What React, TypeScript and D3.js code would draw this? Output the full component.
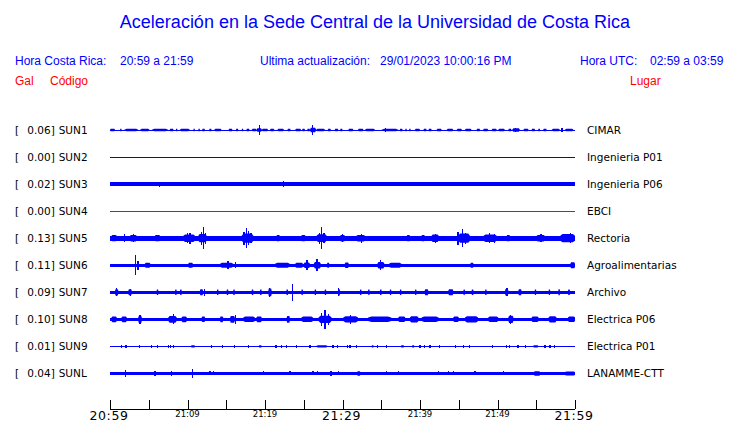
import React from "react";
import * as d3 from "d3";

// ---------- data ----------
const stations = ["SUN1", "SUN2", "SUN3", "SUN4", "SUN5", "SUN6", "SUN7", "SUN8", "SUN9", "SUNL"];
const places = ["CIMAR", "Ingenieria P01", "Ingenieria P06", "EBCI", "Rectoria", "Agroalimentarias", "Archivo", "Electrica P06", "Electrica P01", "LANAMME-CTT"];
const peaks = [0.06, 0.0, 0.02, 0.0, 0.13, 0.11, 0.09, 0.1, 0.01, 0.04];
const traceColors = ["#0000ff", "#0000ff", "#0000ff", "#ff0000", "#0000ff", "#0000ff", "#0000ff", "#0000ff", "#0000ff", "#0000ff"];
// base (background noise) half-amplitude of every trace, Gal
const baseAmp = [0, 0, 0.021, 0, 0.027, 0.015, 0.016, 0.019, 0, 0.017];

// minutes after 20:59 -> [start, end, half amplitude (Gal)]
const seg1: number[][] = [
  [0, 0.65, 0.013], [1.3, 1.5, 0.013], [1.85, 3.65, 0.013], [3.9, 5.1, 0.013], [5.4, 7.5, 0.013], [7.7, 8.2, 0.013], [8.5, 8.7, 0.013],
  [9.0, 10.3, 0.013], [10.75, 10.95, 0.013], [11.4, 11.6, 0.013], [11.9, 12.25, 0.013], [12.8, 13.1, 0.013], [13.45, 14.4, 0.013],
  [15.3, 15.8, 0.013], [16.25, 16.55, 0.013], [17.0, 17.2, 0.013], [17.6, 18.0, 0.013], [18.3, 18.9, 0.013], [18.9, 19.6, 0.02],
  [19.6, 20.4, 0.013], [20.65, 21.2, 0.013], [21.6, 22.45, 0.013], [22.9, 23.3, 0.013], [23.9, 24.65, 0.013], [24.8, 25.15, 0.013],
  [25.45, 25.8, 0.013], [25.8, 26.6, 0.025], [26.6, 27.75, 0.013], [28.1, 28.5, 0.013], [29.0, 29.45, 0.013], [29.7, 30.0, 0.013],
  [30.75, 31.4, 0.013], [32.0, 32.7, 0.013], [32.9, 34.2, 0.013], [35.05, 37.2, 0.013], [37.4, 37.75, 0.013], [38.1, 38.3, 0.013],
  [38.6, 38.8, 0.013], [39.35, 40.0, 0.013], [40.45, 40.85, 0.013], [41.1, 41.5, 0.013], [42.15, 42.8, 0.013], [43.45, 44.3, 0.013],
  [44.75, 45.4, 0.013], [45.8, 46.65, 0.013], [47.3, 47.75, 0.013], [48.15, 48.8, 0.013], [49.25, 49.9, 0.013], [50.1, 50.95, 0.013],
  [51.4, 51.8, 0.013], [51.9, 52.9, 0.02], [53.35, 54.0, 0.013], [54.4, 54.85, 0.013], [55.25, 55.5, 0.013], [55.9, 56.35, 0.013],
  [57.0, 58.05, 0.013], [58.7, 59.8, 0.013],
];
const seg2: number[][] = [];
const seg3: number[][] = [];
const seg4: number[][] = [];
const seg5: number[][] = [
  [0.2, 0.86, 0.034], [2.58, 3.44, 0.036], [5.8, 6.45, 0.034], [9.46, 10.97, 0.04], [11.4, 12.47, 0.045], [17.0, 18.5, 0.05],
  [21.5, 21.9, 0.034], [24.7, 25.2, 0.034], [26.66, 27.96, 0.042], [29.7, 30.3, 0.036], [31.8, 32.9, 0.036], [38.3, 38.7, 0.034],
  [40.2, 40.6, 0.034], [41.5, 42.4, 0.04], [44.95, 46.45, 0.05], [48.2, 49.9, 0.04], [51.2, 51.6, 0.034], [55.05, 56.1, 0.036],
  [58.1, 60.0, 0.045],
];
const seg6: number[][] = [
  [4.5, 5.2, 0.028], [10.1, 10.7, 0.027], [14.2, 15.9, 0.028], [21.3, 23.2, 0.027], [23.9, 24.9, 0.027], [25.0, 25.8, 0.03],
  [26.3, 27.2, 0.034], [28.0, 28.3, 0.027], [30.3, 30.8, 0.03], [34.5, 35.4, 0.034], [36.0, 37.6, 0.027], [46.5, 46.9, 0.027],
  [59.4, 60.0, 0.033],
];
const seg7: number[][] = [
  [0.65, 1.07, 0.034], [2.37, 2.8, 0.032], [6.02, 6.24, 0.03], [8.4, 8.6, 0.03], [9.03, 9.25, 0.03], [11.6, 12.0, 0.032],
  [13.8, 14.0, 0.03], [15.05, 15.27, 0.03], [15.9, 16.1, 0.03], [18.28, 18.5, 0.03], [19.35, 19.57, 0.03], [20.43, 20.86, 0.042],
  [22.76, 22.98, 0.03], [24.7, 24.9, 0.03], [26.4, 26.6, 0.03], [27.7, 27.9, 0.03], [29.46, 29.68, 0.034], [32.25, 32.45, 0.03],
  [33.3, 33.5, 0.03], [34.83, 35.05, 0.03], [36.1, 36.3, 0.03], [37.4, 37.6, 0.03], [39.35, 39.55, 0.03], [40.6, 41.07, 0.032],
  [43.65, 44.3, 0.032], [45.6, 45.8, 0.03], [46.66, 46.9, 0.03], [48.4, 48.6, 0.03], [50.97, 51.4, 0.036], [52.7, 53.1, 0.032],
  [54.8, 55.0, 0.03], [56.6, 56.8, 0.03], [57.85, 58.06, 0.032], [59.1, 59.35, 0.03],
];
const seg8: number[][] = [
  [0.2, 0.86, 0.032], [1.5, 2.15, 0.032], [3.65, 4.1, 0.04], [7.53, 8.6, 0.036], [9.25, 9.9, 0.032], [11.83, 12.26, 0.03],
  [14.2, 14.6, 0.032], [15.5, 16.1, 0.036], [17.2, 18.7, 0.03], [18.9, 19.57, 0.032], [22.8, 23.2, 0.036], [24.7, 26.2, 0.03],
  [26.9, 28.6, 0.04], [30.1, 32.0, 0.033], [33.3, 36.3, 0.03], [37.2, 38.1, 0.03], [38.7, 39.8, 0.033], [40.2, 42.4, 0.03],
  [44.3, 45.0, 0.03], [45.8, 47.5, 0.033], [48.8, 50.1, 0.03], [51.4, 52.05, 0.04], [54.4, 55.3, 0.03], [56.6, 57.6, 0.033],
  [59.1, 60.0, 0.03],
];
const seg9: number[][] = [
  [10.45, 10.97, 0.012], [19.2, 19.57, 0.012], [26.6, 28.09, 0.012], [33.76, 34.02, 0.012], [37.55, 37.94, 0.012],
  [38.97, 39.27, 0.012], [54.6, 55.27, 0.012],
];
const segL: number[][] = [[31.9, 32.3, 0.025], [54.7, 55.5, 0.025], [58.7, 60.0, 0.021]];
const segments = [seg1, seg2, seg3, seg4, seg5, seg6, seg7, seg8, seg9, segL];

// minutes after 20:59 -> [time, half amplitude (Gal)]
const spk1: number[][] = [[19.25, 0.058], [26.1, 0.05], [35.5, 0.022], [52.3, 0.027], [58.3, 0.022]];
const spk2: number[][] = [];
const spk3: number[][] = [[6.4, 0.026], [13.3, 0.024], [22.4, 0.03], [30.8, 0.024], [43.1, 0.024], [47.8, 0.024]];
const spk4: number[][] = [];
const spk5: number[][] = [
  [1.9, 0.045], [3.0, 0.045], [10.0, 0.055], [10.3, 0.06], [11.8, 0.07], [12.05, 0.122], [12.3, 0.06], [17.3, 0.07],
  [17.6, 0.11], [17.9, 0.075], [18.2, 0.055], [27.0, 0.06], [27.3, 0.12], [27.6, 0.055], [30.0, 0.045], [32.4, 0.05],
  [42.0, 0.05], [44.9, 0.07], [45.45, 0.1], [45.9, 0.06], [49.0, 0.055], [49.6, 0.05], [55.6, 0.045], [59.4, 0.055],
];
const spk6: number[][] = [[3.25, 0.11], [3.6, 0.05], [15.2, 0.045], [16.2, 0.035], [25.4, 0.055], [26.7, 0.065], [34.9, 0.055]];
const spk7: number[][] = [[0.8, 0.045], [20.6, 0.05], [23.5, 0.09], [29.5, 0.042], [51.2, 0.045], [2.6, 0.04], [12.2, 0.04]];
const spk8: number[][] = [[3.85, 0.05], [8.2, 0.055], [16.2, 0.045], [27.3, 0.07], [27.75, 0.1], [28.2, 0.06], [51.7, 0.05], [31.0, 0.045]];
const spk9: number[][] = [
  [1.5, 0.014], [2.07, 0.014], [3.78, 0.014], [5.38, 0.014], [6.11, 0.014], [7.53, 0.014], [7.83, 0.014], [8.17, 0.014],
  [13.1, 0.014], [14.5, 0.014], [16.04, 0.014], [17.9, 0.014], [21.4, 0.014], [22.15, 0.014], [22.8, 0.014], [24.04, 0.014],
  [25.8, 0.014], [28.77, 0.014], [29.38, 0.014], [30.67, 0.014], [30.97, 0.014], [31.83, 0.014], [34.5, 0.014], [35.7, 0.014],
  [40.0, 0.014], [40.56, 0.014], [41.29, 0.014], [42.5, 0.014], [44.6, 0.014], [45.59, 0.014], [46.37, 0.014], [49.38, 0.014],
  [51.18, 0.014], [51.53, 0.014], [52.65, 0.014], [53.63, 0.014], [56.13, 0.014], [56.77, 0.014], [57.33, 0.014],
];
const spkL: number[][] = [
  [2.0, 0.04], [5.8, 0.025], [7.96, 0.025], [10.6, 0.05], [12.9, 0.022], [13.33, 0.022], [19.78, 0.022], [23.2, 0.022],
  [26.2, 0.022], [26.75, 0.022], [28.5, 0.025], [29.46, 0.022], [35.7, 0.022], [37.2, 0.022], [42.37, 0.022], [43.66, 0.022],
  [44.3, 0.022], [47.1, 0.022], [50.75, 0.022],
];
const spikes = [spk1, spk2, spk3, spk4, spk5, spk6, spk7, spk8, spk9, spkL];

const tickMinutes = [0, 5, 10, 15, 20, 25, 30, 35, 40, 45, 50, 55, 60];
const labelMinutes = [0, 10, 20, 30, 40, 50, 60];
const tickLabels = ["20:59", "21:09", "21:19", "21:29", "21:39", "21:49", "21:59"];
const majorLabel = [true, false, false, true, false, false, true];

// ---------- layout ----------
const W = 740;
const H = 423;
const X0 = 110;
const X1 = 575;
const ROW0 = 130;
const ROW_STEP = 27.05;
const AXIS_Y = 409;
const SANS = "'Liberation Sans', Arial, Helvetica, sans-serif";
const DEJAVU = "'DejaVu Sans', Verdana, sans-serif";
const BLUE = "#0000ff";
const RED = "#ff0000";

export default function App() {
  const x = d3.scaleLinear().domain([0, 60]).range([X0, X1]);
  const rowY = d3.scaleLinear().domain([0, 1]).range([ROW0, ROW0 + ROW_STEP]);
  const amp = d3.scaleLinear().domain([-0.13, 0.13]).range([12, -12]);

  const band = (a: number) => {
    const top = amp(a);
    const h = Math.max(1, amp(-a) - amp(a));
    return { top: h === 1 ? -0.5 : top, h };
  };

  // burst shape: a trapezoid envelope over [t0, t1] rising from the base level
  const burst = (d: number[], base: number, cy: number) => {
    const a0 = Math.max(base, 0.004);
    const w = d[1] - d[0];
    const pts: [number, number][] = [
      [d[0], a0], [d[0] + w * 0.15, d[2]], [d[1] - w * 0.15, d[2]], [d[1], a0],
    ];
    const top = pts.map(([t, a]) => [x(t), cy + amp(a)] as [number, number]);
    const bot = pts.slice().reverse().map(([t, a]) => [x(t), cy + amp(-a)] as [number, number]);
    return d3.line()([...top, ...bot]) + "Z";
  };

  return (
    <svg
      width={W}
      height={H}
      style={{ position: "absolute", left: 0, top: 0, background: "#fff" }}
      xmlns="http://www.w3.org/2000/svg"
    >
      <rect x={0} y={0} width={W} height={H} fill="#fff" />
      <text x={375} y={28} textAnchor="middle" fontFamily={SANS} fontSize={18} fill={BLUE}>
        Aceleración en la Sede Central de la Universidad de Costa Rica
      </text>

      <g fontFamily={SANS} fontSize={12} fill={BLUE}>
        <text x={15} y={65}>Hora Costa Rica:</text>
        <text x={120} y={65}>20:59 a 21:59</text>
        <text x={260} y={65}>Ultima actualización:</text>
        <text x={380} y={65}>29/01/2023 10:00:16 PM</text>
        <text x={580} y={65}>Hora UTC:</text>
        <text x={650} y={65}>02:59 a 03:59</text>
      </g>
      <g fontFamily={SANS} fontSize={12} fill={RED}>
        <text x={15} y={85}>Gal</text>
        <text x={50} y={85}>Código</text>
        <text x={630} y={85}>Lugar</text>
      </g>

      {stations.map((s, i) => {
        const cy = rowY(i);
        const col = traceColors[i];
        const b = band(baseAmp[i]);
        return (
          <g key={s}>
            <g fontFamily={DEJAVU} fontSize={10.5} fill="#000">
              <text x={15} y={cy + 4}>[</text>
              <text x={54.8} y={cy + 4} textAnchor="end">{peaks[i].toFixed(2) + "]"}</text>
              <text x={58.7} y={cy + 4}>{s}</text>
              <text x={587} y={cy + 4}>{places[i]}</text>
            </g>
            <g fill={col}>
              <rect x={x(0)} y={cy + b.top} width={x(60) - x(0)} height={b.h} shapeRendering="crispEdges" />
              {segments[i].map((d, k) => (
                <path key={"s" + k} d={burst(d, baseAmp[i], cy)} />
              ))}
              {spikes[i].map((d, k) => {
                const bb = band(d[1]);
                return (
                  <rect key={"p" + k} x={x(d[0]) - 0.6} y={cy + bb.top} width={1.3} height={bb.h} shapeRendering="crispEdges" />
                );
              })}
            </g>
          </g>
        );
      })}

      <g stroke="#000" strokeWidth={1} shapeRendering="crispEdges">
        <line x1={x(0)} x2={x(60)} y1={AXIS_Y + 0.5} y2={AXIS_Y + 0.5} />
        {tickMinutes.map((m) => (
          <line key={m} x1={Math.round(x(m)) + 0.5} x2={Math.round(x(m)) + 0.5} y1={AXIS_Y - 9} y2={AXIS_Y} />
        ))}
      </g>
      <g fontFamily={DEJAVU} fill="#000" textAnchor="middle">
        {labelMinutes.map((m, k) =>
          majorLabel[k] ? (
            <text key={m} x={x(m) - 1} y={420} fontSize={12.5} letterSpacing={0.6}>
              {tickLabels[k]}
            </text>
          ) : (
            <text key={m} x={x(m)} y={416.5} fontSize={8.5}>
              {tickLabels[k]}
            </text>
          )
        )}
      </g>
    </svg>
  );
}
